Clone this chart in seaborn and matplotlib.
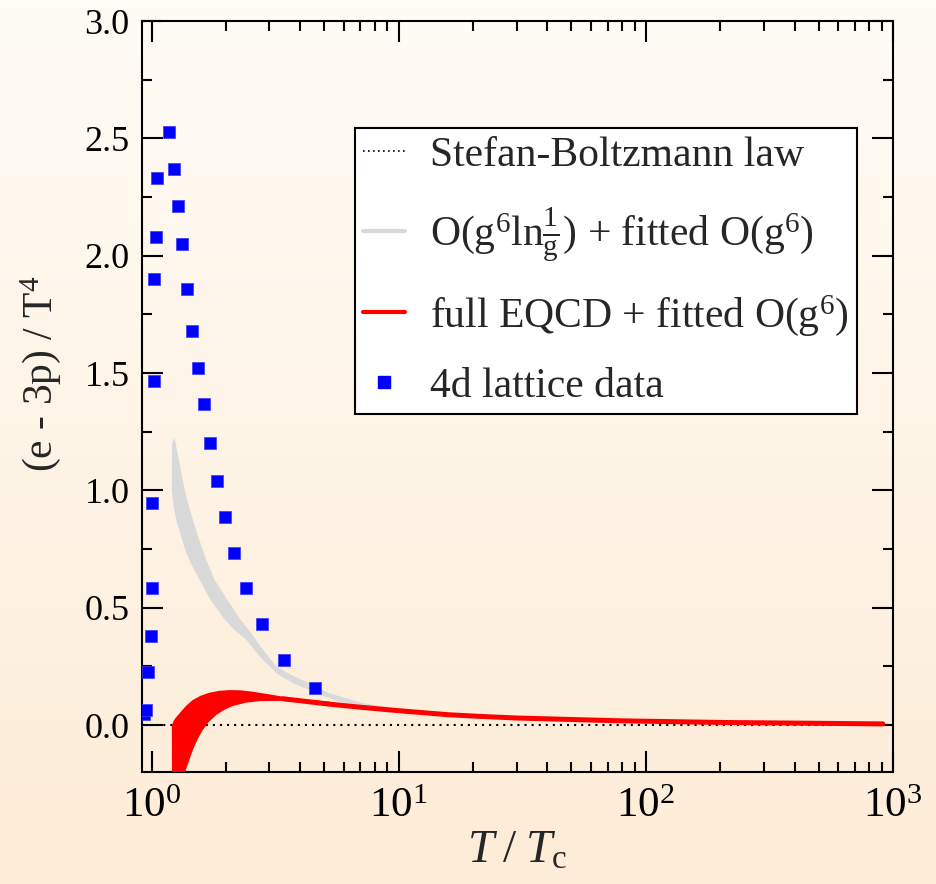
import numpy as np
import pandas as pd
import matplotlib
matplotlib.use("Agg")
import matplotlib.pyplot as plt
import seaborn as sns
from matplotlib.lines import Line2D
from matplotlib.colors import LinearSegmentedColormap
from matplotlib.ticker import MultipleLocator, LogLocator

# ---------------- data ----------------
lat_x = [0.928, 0.946, 0.972, 0.991, 1.000, 1.009, 1.019, 1.028, 1.038, 1.048,
         1.172, 1.228, 1.274, 1.323, 1.386, 1.452, 1.536, 1.623, 1.717, 1.833,
         1.975, 2.148, 2.402, 2.788, 3.42, 4.57]
lat_y = [0.047, 0.064, 0.226, 0.380, 0.585, 0.947, 1.464, 1.900, 2.080, 2.330,
         2.527, 2.370, 2.210, 2.050, 1.860, 1.680, 1.520, 1.366, 1.200, 1.040,
         0.888, 0.734, 0.585, 0.431, 0.277, 0.158]

grey_upper_x = [1.21, 1.239, 1.268, 1.298, 1.339, 1.382, 1.469, 1.565, 1.665, 1.80,
                2.03, 2.27, 2.53, 2.85, 3.2, 3.7, 4.36, 5.25, 7.2, 9.8,
                15.0, 30.0, 80.0, 200.0, 900.0]
grey_upper_y = [1.20, 1.225, 1.170, 1.117, 1.040, 0.974, 0.875, 0.785, 0.704, 0.618,
                0.533, 0.455, 0.391, 0.316, 0.249, 0.212, 0.178, 0.135, 0.093, 0.071,
                0.049, 0.032, 0.020, 0.013, 0.007]
grey_lower_x = [1.208, 1.230, 1.259, 1.32, 1.382, 1.47, 1.565, 1.733, 1.95, 2.15,
                2.42, 2.75, 3.2, 3.7, 4.36, 5.0, 5.77, 7.2, 9.8, 15.0,
                30.0, 80.0, 200.0, 900.0]
grey_lower_y = [0.996, 0.930, 0.875, 0.800, 0.733, 0.672, 0.619, 0.533, 0.458, 0.408,
                0.363, 0.290, 0.221, 0.180, 0.149, 0.122, 0.100, 0.080, 0.062, 0.044,
                0.029, 0.017, 0.010, 0.004]

red_upper_x = [1.208, 1.23, 1.25, 1.298, 1.38, 1.469, 1.58, 1.717, 1.88, 2.07,
               2.30, 2.57, 2.95, 3.4, 4.36, 5.25]
red_upper_y = [0.000, 0.018, 0.030, 0.050, 0.082, 0.107, 0.125, 0.138, 0.146, 0.149,
               0.148, 0.142, 0.132, 0.121, 0.107, 0.100]
red_lower_x = [1.215, 1.30, 1.36, 1.469, 1.54, 1.613, 1.70, 1.828, 1.97, 2.133,
               2.40, 2.735, 3.4, 4.36, 5.25]
red_lower_y = [-0.600, -0.290, -0.206, -0.107, -0.058, -0.021, 0.012, 0.043, 0.065, 0.081,
               0.095, 0.102, 0.103, 0.093, 0.080]

red_line_x = [3.4, 4.36, 5.25, 7.15, 9.79, 15.9, 21.3, 30.2, 79.4, 207.0, 910.0]
red_line_y = [0.112, 0.099, 0.089, 0.075, 0.062, 0.044, 0.037, 0.030, 0.018, 0.011, 0.005]

sb_level = 0.0
legend_labels = ["Stefan-Boltzmann law",
                 r"O(g$^{6}$ln$\frac{1}{\mathrm{g}}$) + fitted O(g$^{6}$)",
                 r"full EQCD + fitted O(g$^{6}$)",
                 "4d lattice data"]

# ---------------- style ----------------
sns.set_style("ticks")
plt.rcParams.update({
    "font.family": ["Liberation Serif", "DejaVu Serif"],
    "mathtext.fontset": "custom",
    "mathtext.rm": "Liberation Serif",
    "mathtext.it": "Liberation Serif:italic",
    "mathtext.bf": "Liberation Serif:bold",
    "axes.linewidth": 1.5,
})

W, H = 936, 884
fig = plt.figure(figsize=(W / 100, H / 100), dpi=100)

# background gradient
bg = fig.add_axes([0, 0, 1, 1], zorder=-10)
cmap = LinearSegmentedColormap.from_list("bg", ["#fffcf6", "#fdecd7"])
grad = np.linspace(0, 1, 256).reshape(-1, 1)
bg.imshow(grad, aspect="auto", cmap=cmap, extent=[0, 1, 0, 1], origin="upper")
bg.set_axis_off()

left, right, top, bottom = 142, 893, 21, 772
ax = fig.add_axes([left / W, 1 - bottom / H, (right - left) / W, (bottom - top) / H])
ax.set_facecolor("none")
ax.set_xscale("log")

# bands
ax.fill(grey_upper_x + grey_lower_x[::-1], grey_upper_y + grey_lower_y[::-1],
        color="#d9d9d9", lw=0, zorder=2)
ax.fill(red_upper_x + red_lower_x[::-1], red_upper_y + red_lower_y[::-1],
        color="#ff0000", lw=0, zorder=3)
sns.lineplot(x=red_line_x, y=red_line_y, color="#ff0000", lw=3.6, ax=ax, zorder=3,
             estimator=None, sort=False)
ax.axhline(sb_level, color="black", ls=(0, (1, 2.4)), lw=1.5, zorder=2)

df = pd.DataFrame({"x": lat_x, "y": lat_y})
sns.scatterplot(data=df, x="x", y="y", marker="s", s=85, color="#0000ff",
                edgecolor="#3a3aff", linewidth=0.5, ax=ax, zorder=5)

ax.set_xlim(0.915, 1000)
ax.set_ylim(-0.2, 3.0)
ax.yaxis.set_major_locator(MultipleLocator(0.5))
ax.yaxis.set_minor_locator(MultipleLocator(0.25))
ax.xaxis.set_major_locator(LogLocator(base=10, numticks=10))
ax.xaxis.set_minor_locator(LogLocator(base=10, subs=np.arange(2, 10), numticks=20))
ax.yaxis.set_major_formatter(matplotlib.ticker.FormatStrFormatter("%.1f"))

ax.tick_params(which="both", direction="in", top=True, right=True, width=1.5,
               colors="black")
ax.tick_params(which="major", length=15)
ax.tick_params(which="minor", length=7.5)
ax.tick_params(axis="y", which="major", pad=9, labelsize=26)
ax.tick_params(axis="x", which="major", pad=11, labelsize=31)

ax.set_xlabel(r"$T\;/\;T_{\mathrm{c}}$", fontsize=34, labelpad=3)
ax.set_ylabel(r"(e - 3p) / T$^{4}$", fontsize=30)
ax.yaxis.set_label_coords(-0.105, 0.53)

for sp in ax.spines.values():
    sp.set_linewidth(1.5)
    sp.set_color("black")
    sp.set_visible(True)

handles = [
    Line2D([], [], color="black", ls=(0, (1, 2)), lw=1.2),
    Line2D([], [], color="#d9d9d9", lw=3),
    Line2D([], [], color="#ff0000", lw=3),
    Line2D([], [], color="#0000ff", marker="s", ls="none", markersize=8),
]
leg = ax.legend(handles, legend_labels, loc="upper right",
                bbox_to_anchor=(0.952, 0.8575), fontsize=30, frameon=True,
                fancybox=False, framealpha=1, edgecolor="black", facecolor="white",
                handlelength=1.0, handletextpad=0.6, borderpad=0.2,
                labelspacing=0.72, borderaxespad=0)
leg.get_frame().set_linewidth(1.5)

fig.savefig("out.png", dpi=100)
